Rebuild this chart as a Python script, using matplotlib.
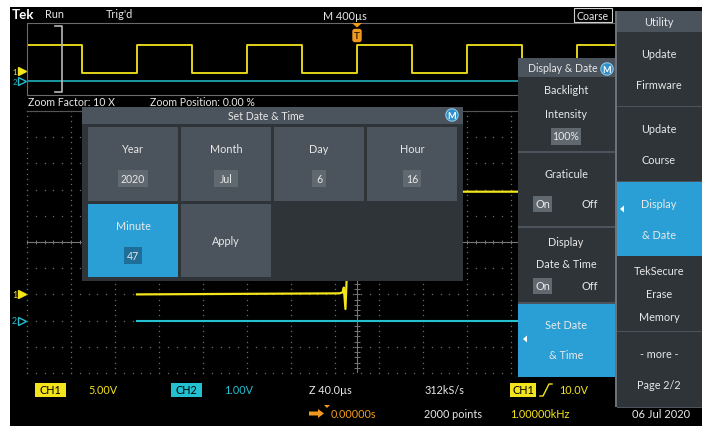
import numpy as np
import matplotlib
matplotlib.use("Agg")
import matplotlib.pyplot as plt
import matplotlib.transforms as mtransforms
from matplotlib.patches import Rectangle, Circle, Polygon, FancyBboxPatch

plt.rcParams["font.family"] = ["Lato", "DejaVu Sans"]

W, H = 702, 427

# ==============================
# Data
# ==============================
ch1_scale_v = 5.0
ch2_scale_v = 1.0
ch1_offset_div = -2.0
ch2_offset_div = -3.0

# overview record, M 400us/div, 15 divisions
ovw_span_ms = (-3.0, 3.0)
ovw_edges_ms = [-2.5, -2.0, -1.5, -1.0, -0.5, 0.0, 0.5, 1.0, 1.5, 2.0]
ovw_levels_v = [0.0, 19.6]          # low, high
ovw_start_high = True
zoom_bracket_ms = -2.68

# zoom window, Z 40us/div
main_span_us = (-300.0, 300.0)
main_t_us = [-200, -16, -13, -12, -10.5, -9, -8, 300]
main_ch1_v = [0.0, 0.2, 0.4, 1.3, -2.8, 5.0, 19.6, 19.6]
main_ch2_t_us = [-200, 300]
main_ch2_v = [0.0, 0.0]

# dialog + menus
date_fields = ["Year", "Month", "Day", "Hour", "Minute"]
date_values = ["2020", "Jul", "6", "16", "47"]
utility_items = [["Update", "Firmware"], ["Update", "Course"], ["Display", "& Date"],
                 ["TekSecure", "Erase", "Memory"], ["- more -", "Page 2/2"]]

YEL = "#f4e41c"
CYN = "#22c0d0"
ORG = "#f29a1e"
BLUE = "#2a9fd6"
PANEL = "#4b535c"
BODY = "#2e3438"
VALBOX = "#606870"
GRID = "#6a6a6a"
TXT = "#e8e8e8"


def frac_box(x0, y0, x1, y1):
    return [x0 / W, 1 - y1 / H, (x1 - x0) / W, (y1 - y0) / H]


fig = plt.figure(figsize=(W / 100, H / 100), dpi=100)

# background layer
bg = fig.add_axes([0, 0, 1, 1], zorder=0)
bg.set_xlim(0, W)
bg.set_ylim(H, 0)
bg.axis("off")
bg.add_patch(Rectangle((10, 8), W - 10, H - 8, facecolor="black", edgecolor="none"))

# ==============================
# Overview waveform
# ==============================
ax_o = fig.add_axes(frac_box(27, 24, 687, 96), zorder=1)
ax_o.set_facecolor("none")
ax_o.set_xlim(*ovw_span_ms)
ax_o.set_ylim(-5, 5)
ax_o.set_xticks([])
ax_o.set_yticks([])
for s in ax_o.spines.values():
    s.set_color("#6a6a6a")
    s.set_linewidth(0.8)

lvl = 1 if ovw_start_high else 0
tx, ty = [ovw_span_ms[0]], [ovw_levels_v[lvl]]
for e in ovw_edges_ms:
    tx += [e, e]
    ty += [ovw_levels_v[lvl], ovw_levels_v[1 - lvl]]
    lvl = 1 - lvl
tx.append(ovw_span_ms[1])
ty.append(ovw_levels_v[lvl])
ax_o.plot(tx, np.array(ty) / ch1_scale_v + ch1_offset_div, color=YEL, lw=1.3)
ax_o.plot(ovw_span_ms, [ch2_offset_div, ch2_offset_div], color=CYN, lw=1.1)
bw = 0.065
ax_o.plot([zoom_bracket_ms - bw, zoom_bracket_ms, zoom_bracket_ms, zoom_bracket_ms - bw],
          [4.6, 4.6, -4.6, -4.6], color="#b8b8b8", lw=1.2)

# ==============================
# Zoomed graticule
# ==============================
ax_m = fig.add_axes(frac_box(27, 112, 687, 374), zorder=1)
ax_m.set_facecolor("none")
ax_m.set_xlim(*main_span_us)
ax_m.set_ylim(-5, 5)
ax_m.set_xticks([])
ax_m.set_yticks([])
for k, s in ax_m.spines.items():
    s.set_visible(k == "top")
    s.set_color("#555555")

xdiv = np.arange(main_span_us[0], main_span_us[1] + 1, 40.0)
ydiv = np.arange(-5, 6)
xminor = np.arange(main_span_us[0], main_span_us[1] + 1, 8.0)
yminor = np.arange(-5, 5.01, 0.2)
gx, gy = [], []
for xv in xdiv:
    gx += [xv] * len(yminor)
    gy += list(yminor)
for yv in ydiv:
    gx += list(xminor)
    gy += [yv] * len(xminor)
ax_m.plot(gx, gy, ls="none", marker="s", ms=0.9, mew=0, color=GRID, clip_on=False)
ax_m.axhline(0, color="#777777", lw=0.8)
ax_m.axvline(0, color="#777777", lw=0.8)
ax_m.vlines(xminor, -0.09, 0.09, color="#777777", lw=0.7)
ax_m.hlines(yminor, -3.0, 3.0, color="#777777", lw=0.7)

ax_m.plot(main_t_us, np.array(main_ch1_v) / ch1_scale_v + ch1_offset_div, color=YEL, lw=1.6)
ax_m.plot(main_ch2_t_us, np.array(main_ch2_v) / ch2_scale_v + ch2_offset_div, color=CYN, lw=1.5)

# channel offset markers (small nudge in the compressed overview)
for ax, dy, ms in ((ax_o, (0.3, -0.1), 5.6), (ax_m, (0.0, 0.0), 6.2)):
    tr = mtransforms.blended_transform_factory(fig.transFigure, ax.transData)
    for num, off, col, fill, d in ((1, ch1_offset_div, YEL, True, dy[0]),
                                   (2, ch2_offset_div, CYN, False, dy[1])):
        ax.plot([21.5 / W], [off + d], marker=">", ms=ms, mew=1.0, mec=col,
                mfc=col if fill else "black", transform=tr, clip_on=False, zorder=5)
        ax.text(17 / W, off + d, str(num), transform=tr, color=col,
                fontsize=5.6 if ax is ax_o else 6.3,
                ha="right", va="center", clip_on=False)

# ==============================
# UI overlay
# ==============================
ui = fig.add_axes([0, 0, 1, 1], zorder=3)
ui.set_facecolor("none")
ui.set_xlim(0, W)
ui.set_ylim(H, 0)
ui.axis("off")


def rect(x0, y0, x1, y1, color, **kw):
    ui.add_patch(Rectangle((x0, y0), x1 - x0, y1 - y0, facecolor=color,
                           edgecolor=kw.pop("ec", "none"), **kw))


def txt(x, y, s, color=TXT, size=7.6, ha="center", **kw):
    ui.text(x, y, s, color=color, fontsize=size, ha=ha, va="center", **kw)


def mbadge(x, y):
    ui.add_patch(Circle((x, y), 6.2, facecolor="#2f8fc8", edgecolor="#8cc8ea", lw=0.8))
    txt(x, y + 0.3, "M", color="white", size=6.5, weight="bold")


# status bar
txt(12, 15, "Tek", color="white", size=9.6, ha="left", weight="bold")
txt(45, 15, "Run", color=TXT, size=7.8, ha="left")
txt(106, 15, "Trig'd", color=TXT, size=7.8, ha="left")
txt(345, 16, "M 400µs", color=TXT, size=7.8)
rect(574, 9, 612, 23, "black", ec="#cfcfcf", lw=0.8)
txt(593, 16, "Coarse", color=TXT, size=7.6)

# trigger position marker
ui.add_patch(Polygon([[352, 24], [362, 24], [357, 28.5]], facecolor=ORG, edgecolor="none"))
ui.add_patch(FancyBboxPatch((352.5, 30), 9, 13, boxstyle="round,pad=0.2,rounding_size=2.5",
                            facecolor=ORG, edgecolor="none"))
txt(357, 36.5, "T", color="#3a2400", size=7, weight="bold")

txt(28, 102, "Zoom Factor: 10 X", size=7.6, ha="left")
txt(150, 102, "Zoom Position: 0.00 %", size=7.6, ha="left")

# Set Date & Time dialog
rect(82, 108, 463, 282, BODY)
rect(82, 108, 463, 125, PANEL)
txt(266, 117, "Set Date & Time", size=7.6)
mbadge(452, 116)
cell_x = [(88, 178), (181, 271), (274, 364), (367, 457)]
for i, (name, val) in enumerate(zip(date_fields, date_values)):
    if i < 4:
        (x0, x1), (y0, y1) = cell_x[i], (128, 202)
        face, vbox = PANEL, VALBOX
    else:
        (x0, x1), (y0, y1) = cell_x[0], (205, 278)
        face, vbox = BLUE, "#1f6e98"
    rect(x0, y0, x1, y1, face)
    cx = (x0 + x1) / 2
    txt(cx, y0 + 22, name, size=7.8)
    vw = 8 + 5.4 * len(val)
    rect(cx - vw / 2, y0 + 43, cx + vw / 2, y0 + 60, vbox)
    txt(cx, y0 + 51.5, val, size=7.6)
rect(181, 205, 271, 278, PANEL)
txt(226, 242, "Apply", size=7.8)

# Display & Date side menu
rect(518, 59, 615, 378, BODY)
rect(518, 59, 615, 78, PANEL)
txt(563, 69, "Display & Date", size=7.6)
mbadge(607, 70)
for ysep in (153, 228, 304):
    rect(518, ysep - 1, 615, ysep + 1, PANEL)
txt(566, 91, "Backlight", size=7.8)
txt(566, 115, "Intensity", size=7.8)
rect(551, 129, 581, 146, VALBOX)
txt(566, 137, "100%", size=7.6)
txt(566, 175, "Graticule", size=7.8)
rect(533, 197, 552, 213, VALBOX)
txt(542.5, 205, "On", size=7.8)
txt(590, 205, "Off", size=7.8)
txt(566, 243, "Display", size=7.8)
txt(566, 265, "Date & Time", size=7.8)
rect(533, 279, 552, 295, VALBOX)
txt(542.5, 287, "On", size=7.8)
txt(590, 287, "Off", size=7.8)
rect(518, 305, 615, 378, BLUE)
txt(566, 326, "Set Date", size=7.8)
txt(566, 356, "& Time", size=7.8)
ui.add_patch(Polygon([[527, 336.5], [527, 343.5], [523, 340]], facecolor="white", edgecolor="none"))

# Utility menu
rect(615, 12, W, 408, BODY)
rect(615, 12, W, 33, PANEL)
rect(615, 12, 616.5, 408, "#6a737c")
txt(659, 23, "Utility", size=7.8)
bands = [(33, 107), (108, 182), (183, 257), (258, 332), (333, 408)]
for (y0, y1), lines in zip(bands, utility_items):
    if lines[0] == "Display":
        rect(616.5, y0, W, y1, BLUE)
        ui.add_patch(Polygon([[624, 206.5], [624, 213.5], [620, 210]],
                             facecolor="white", edgecolor="none"))
    else:
        rect(616.5, y1 - 0.5, W, y1 + 1, PANEL)
    n = len(lines)
    step = 31 if n == 2 else 23
    ymid = (y0 + y1) / 2
    for j, line in enumerate(lines):
        txt(659, ymid + (j - (n - 1) / 2) * step, line, size=7.8)
txt(661, 415, "06 Jul 2020", color=TXT, size=8)

# bottom readouts
rect(35, 384, 66, 398, YEL)
txt(50.5, 391, "CH1", color="black", size=7.8)
txt(88, 391, "5.00V", color=YEL, size=7.8, ha="left")
rect(171, 384, 202, 398, CYN)
txt(186.5, 391, "CH2", color="black", size=7.8)
txt(224, 391, "1.00V", color=CYN, size=7.8, ha="left")
txt(309, 391, "Z 40.0µs", color=TXT, size=7.8, ha="left")
txt(424, 391, "312kS/s", color=TXT, size=7.8, ha="left")
ui.add_patch(Polygon([[309, 412.5], [318, 412.5], [318, 410], [324, 414.5], [318, 419],
                      [318, 416.5], [309, 416.5]], facecolor=ORG, edgecolor="none"))
ui.add_patch(Polygon([[324, 406], [330, 406], [327, 409]], facecolor=ORG, edgecolor="none"))
txt(331, 415, "0.00000s", color=ORG, size=7.8, ha="left")
txt(424, 415, "2000 points", color=TXT, size=7.8, ha="left")
rect(510, 384, 536, 398, YEL)
txt(523, 391, "CH1", color="black", size=7.8)
ui.plot([540, 543, 549, 552], [397, 397, 385, 385], color=YEL, lw=1.0)
txt(559, 391, "10.0V", color=YEL, size=7.8, ha="left")
txt(510, 415, "1.00000kHz", color=YEL, size=7.8, ha="left")

fig.savefig("out.png", dpi=100, facecolor="white")
